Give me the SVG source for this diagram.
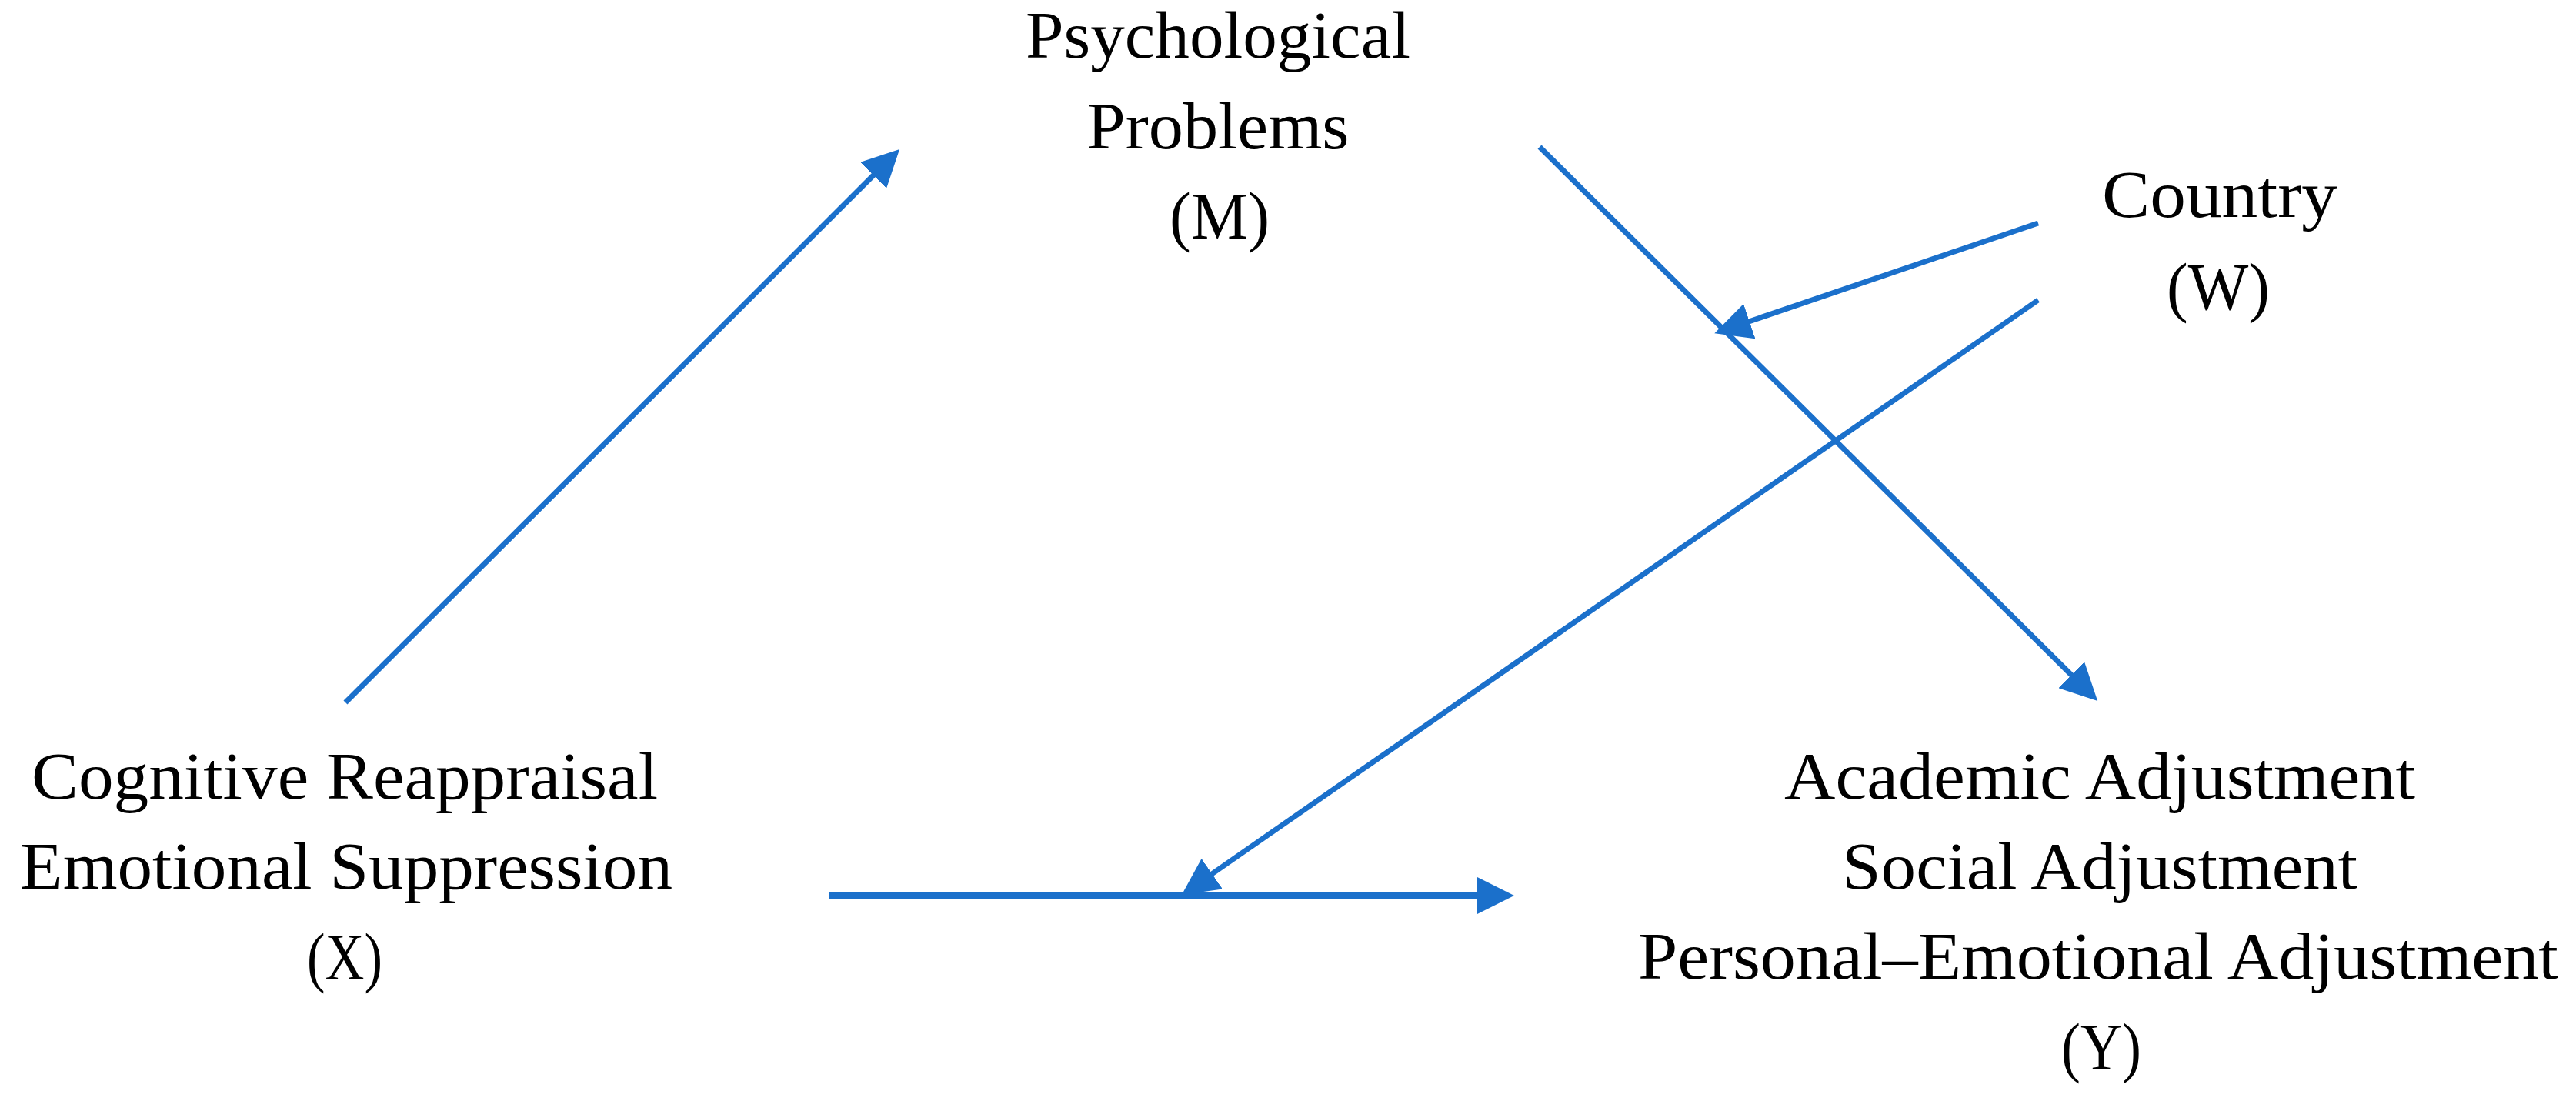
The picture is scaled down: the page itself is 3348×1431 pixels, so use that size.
<svg xmlns="http://www.w3.org/2000/svg" width="3348" height="1431" viewBox="0 0 3348 1431">
<style>
  .lbl { font-family: "Liberation Serif", "Times New Roman", serif; font-size: 86px; fill: #000; text-anchor: middle; }
  .conn { stroke: #1B70CB; stroke-width: 7; fill: none; marker-end: url(#arrow); }
  .conn.h { stroke-width: 8.5; }
</style>
<defs>
  <marker id="arrow" viewBox="0 0 48 48" markerWidth="48" markerHeight="48" markerUnits="userSpaceOnUse" refX="4" refY="24" orient="auto">
    <path d="M0,0 L48,24 L0,48 Z" fill="#1B70CB"/>
  </marker>
</defs>
<rect width="3348" height="1431" fill="#fff"/>
<g id="node-M">
  <text class="lbl" x="1583" y="75" textLength="500" lengthAdjust="spacingAndGlyphs">Psychological</text>
  <text class="lbl" x="1583" y="193" textLength="341" lengthAdjust="spacingAndGlyphs">Problems</text>
  <text class="lbl" x="1585" y="310" textLength="130" lengthAdjust="spacingAndGlyphs">(M)</text>
</g>
<g id="node-W">
  <text class="lbl" x="2885" y="282" textLength="306" lengthAdjust="spacingAndGlyphs">Country</text>
  <text class="lbl" x="2883" y="402" textLength="134" lengthAdjust="spacingAndGlyphs">(W)</text>
</g>
<g id="node-X">
  <text class="lbl" x="448" y="1038" textLength="814" lengthAdjust="spacingAndGlyphs">Cognitive Reappraisal</text>
  <text class="lbl" x="450" y="1155" textLength="848" lengthAdjust="spacingAndGlyphs">Emotional Suppression</text>
  <text class="lbl" x="448" y="1273" textLength="98" lengthAdjust="spacingAndGlyphs">(X)</text>
</g>
<g id="node-Y">
  <text class="lbl" x="2729" y="1038" textLength="820" lengthAdjust="spacingAndGlyphs">Academic Adjustment</text>
  <text class="lbl" x="2729" y="1155" textLength="670" lengthAdjust="spacingAndGlyphs">Social Adjustment</text>
  <text class="lbl" x="2727" y="1272" textLength="1196" lengthAdjust="spacingAndGlyphs">Personal–Emotional Adjustment</text>
  <text class="lbl" x="2731" y="1390" textLength="104" lengthAdjust="spacingAndGlyphs">(Y)</text>
</g>
<g id="connectors">
  <line class="conn" x1="449" y1="913" x2="1138" y2="225"/>
  <line class="conn" x1="2001" y1="191" x2="2695" y2="880"/>
  <line class="conn" x1="2649" y1="290" x2="2270" y2="419"/>
  <line class="conn" x1="2649" y1="390" x2="1572" y2="1138"/>
  <line class="conn h" x1="1077" y1="1164" x2="1924" y2="1164"/>
</g>
</svg>
